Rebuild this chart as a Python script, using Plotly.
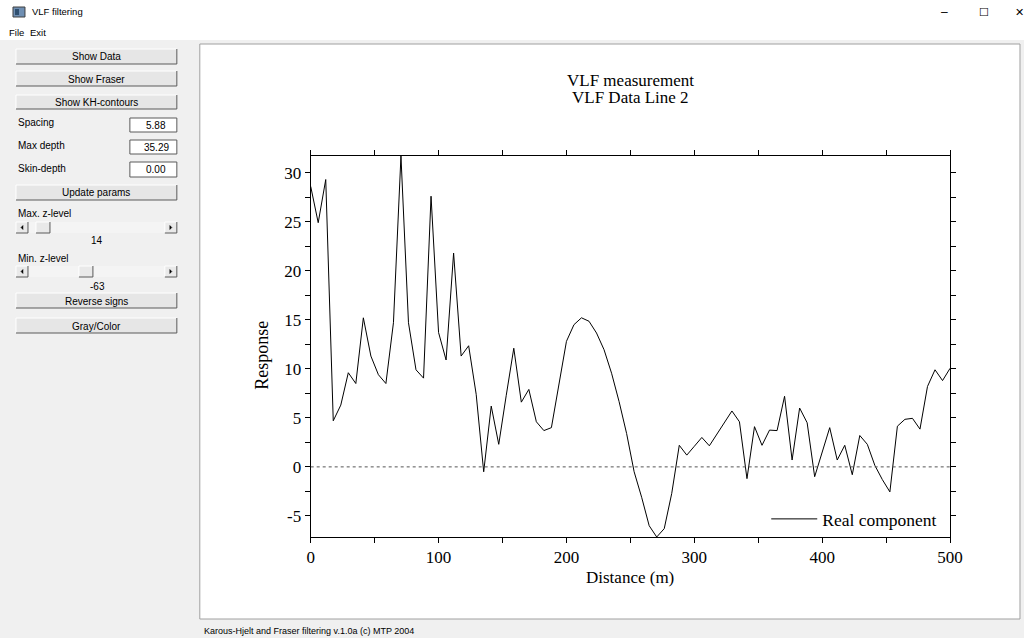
import plotly.graph_objects as go

# ---------------- data ----------------
distance_m = [0.00, 5.88, 11.76, 17.65, 23.53, 29.41, 35.29, 41.18, 47.06, 52.94,
              58.82, 64.71, 70.59, 76.47, 82.35, 88.24, 94.12, 100.00, 105.88, 111.76,
              117.65, 123.53, 129.41, 135.29, 141.18, 147.06, 152.94, 158.82, 164.71, 170.59,
              176.47, 182.35, 188.24, 194.12, 200.00, 205.88, 211.76, 217.65, 223.53, 229.41,
              235.29, 241.18, 247.06, 252.94, 258.82, 264.71, 270.59, 276.47, 282.35, 288.24,
              294.12, 300.00, 305.88, 311.76, 317.65, 323.53, 329.41, 335.29, 341.18, 347.06,
              352.94, 358.82, 364.71, 370.59, 376.47, 382.35, 388.24, 394.12, 400.00, 405.88,
              411.76, 417.65, 423.53, 429.41, 435.29, 441.18, 447.06, 452.94, 458.82, 464.71,
              470.59, 476.47, 482.35, 488.24, 494.12, 500.00]

real_component = [28.6, 24.9, 29.3, 4.7, 6.3, 9.6, 8.5, 15.2, 11.3, 9.4,
                  8.5, 14.7, 31.7, 14.7, 9.9, 9.05, 27.6, 13.7, 10.9, 21.8,
                  11.3, 12.35, 7.4, -0.5, 6.2, 2.3, 7.3, 12.1, 6.6, 7.9,
                  4.6, 3.7, 4.0, 8.5, 12.8, 14.5, 15.2, 14.85, 13.65, 11.95,
                  9.55, 6.65, 3.4, -0.5, -3.1, -6.0, -7.15, -6.3, -2.7, 2.2,
                  1.2, 2.1, 3.0, 2.15, 3.35, 4.6, 5.7, 4.6, -1.2, 4.1,
                  2.2, 3.75, 3.7, 7.2, 0.7, 6.0, 4.5, -1.0, 1.5, 4.0,
                  0.7, 2.2, -0.8, 3.2, 2.3, 0.15, -1.3, -2.55, 4.15, 4.85,
                  4.95, 3.85, 8.2, 9.9, 8.8, 10.05]

x_major_ticks = [0, 100, 200, 300, 400, 500]
x_major_labels = ["0", "100", "200", "300", "400", "500"]
x_minor_ticks = [50, 150, 250, 350, 450]
y_major_ticks = [-5, 0, 5, 10, 15, 20, 25, 30]
y_major_labels = ["-5", "0", "5", "10", "15", "20", "25", "30"]
y_minor_ticks = [-7.5, -2.5, 2.5, 7.5, 12.5, 17.5, 22.5, 27.5]

# ---------------- layout helpers ----------------
W, H = 1024, 638
# horizontal placement as observed in the rendered page
X_OFF, X_SPAN = 4.0, 1008.0
SERIF = "Liberation Serif, Times New Roman, serif"
UI = "Liberation Sans, Arial, sans-serif"

shapes = []
annotations = []


def fx(px):
    return (px - X_OFF) / X_SPAN


def fy(py):
    return 1 - py / H


def rect(x0, y0, x1, y1, fill, line="rgba(0,0,0,0)", lw=1):
    shapes.append(dict(type="rect", xref="paper", yref="paper", layer="below",
                       x0=fx(x0), x1=fx(x1), y0=fy(y1), y1=fy(y0),
                       fillcolor=fill, line=dict(color=line, width=lw)))


def seg(x0, y0, x1, y1, color, lw=1):
    shapes.append(dict(type="line", xref="paper", yref="paper", layer="below",
                       x0=fx(x0), x1=fx(x1), y0=fy(y0), y1=fy(y1),
                       line=dict(color=color, width=lw)))


def text(px, py, s, size=10, font=UI, anchor="left", color="#000"):
    annotations.append(dict(xref="paper", yref="paper", x=fx(px), y=fy(py), text=s,
                            showarrow=False, xanchor=anchor, yanchor="middle",
                            font=dict(family=font, size=size, color=color)))


def button(y0, y1, label, x0=16, x1=177):
    rect(x0, y0, x1, y1, "#e6e6e6")
    seg(x0, y0, x1, y0, "#ffffff")
    seg(x0, y0, x0, y1, "#ffffff")
    seg(x0, y1, x1, y1, "#5a5a5a")
    seg(x1, y0, x1, y1, "#5a5a5a")
    text((x0 + x1) / 2, (y0 + y1) / 2 + 0.5, label, anchor="center")


def editbox(y0, y1, value, x0=130, x1=177):
    rect(x0, y0, x1, y1, "#ffffff", "#5a5a5a")
    text((x0 + x1) / 2 + 3, (y0 + y1) / 2 + 0.5, value, anchor="center")


def scrollbar(y0, y1, thumb_x0, thumb_x1, x0=16, x1=177):
    rect(x0, y0, x1, y1, "#f4f4f4")
    for (a, b) in [(x0, x0 + 12), (thumb_x0, thumb_x1), (x1 - 12, x1)]:
        rect(a, y0, b, y1, "#e9e9e9")
        seg(a, y0, b, y0, "#ffffff")
        seg(a, y0, a, y1, "#ffffff")
        seg(a, y1, b, y1, "#5a5a5a")
        seg(b, y0, b, y1, "#5a5a5a")
    cy = (y0 + y1) / 2
    shapes.append(dict(type="path", xref="paper", yref="paper", layer="below",
                       path=f"M {fx(x0+5)},{fy(cy)} L {fx(x0+7)},{fy(cy-2)} L {fx(x0+7)},{fy(cy+2)} Z",
                       fillcolor="#000", line=dict(color="#000", width=0.5)))
    shapes.append(dict(type="path", xref="paper", yref="paper", layer="below",
                       path=f"M {fx(x1-5)},{fy(cy)} L {fx(x1-7)},{fy(cy-2)} L {fx(x1-7)},{fy(cy+2)} Z",
                       fillcolor="#000", line=dict(color="#000", width=0.5)))


# window background
rect(-10, 40, 1040, H + 5, "#f0f0f0")
# title bar
rect(13, 7, 25, 17, "#6f8fb3", "#404040")
rect(15, 9, 19, 15, "#2f4f6f")
text(30, 12, "VLF filtering", size=9.5)
text(945, 12, "–", size=12, anchor="center")
text(985, 12, "☐", size=11, anchor="center")
text(1021, 12, "✕", size=11, anchor="center")
text(7, 33, "File", size=9.5)
text(28, 33, "Exit", size=9.5)

# left control panel
button(49, 64, "Show Data")
button(71, 86, "Show Fraser")
button(95, 109, "Show KH-contours")
text(16, 123, "Spacing")
editbox(118, 132, "5.88")
text(16, 145, "Max depth")
editbox(140, 154, "35.29")
text(16, 168, "Skin-depth")
editbox(162, 177, "0.00")
button(185, 200, "Update params")
text(16, 214, "Max. z-level")
scrollbar(222, 233, 36, 50)
text(97, 241, "14", anchor="center")
text(16, 258, "Min. z-level")
scrollbar(266, 277, 79, 93)
text(98, 286, "-63", anchor="center")
button(293, 308, "Reverse signs")
button(318, 333, "Gray/Color")

# chart panel
rect(200, 44, 1021, 619, "#ffffff", "#a0a0a0")
text(202, 631, "Karous-Hjelt and Fraser filtering v.1.0a (c) MTP 2004", size=9)

# chart titles
text(631, 81, "VLF measurement", size=17, font=SERIF, anchor="center")
text(631, 97.5, "VLF Data Line 2", size=17, font=SERIF, anchor="center")
text(631, 577, "Distance (m)", size=17, font=SERIF, anchor="center")
annotations.append(dict(xref="paper", yref="paper", x=fx(262), y=fy(355), text="Response",
                        textangle=-90, showarrow=False, xanchor="center", yanchor="middle",
                        font=dict(family=SERIF, size=18, color="#000")))

# zero reference line
shapes.append(dict(type="line", xref="x", yref="y", x0=0, x1=500, y0=0, y1=0,
                   line=dict(color="#555555", width=1, dash="dot")))

fig = go.Figure()
fig.add_trace(go.Scatter(x=distance_m, y=real_component, mode="lines",
                         name="Real component",
                         line=dict(color="#000000", width=1)))

axis_common = dict(showline=True, linecolor="#000", linewidth=1, mirror="ticks",
                   ticks="outside", ticklen=5, tickcolor="#000", tickwidth=1,
                   showgrid=False, zeroline=False,
                   tickfont=dict(family=SERIF, size=17, color="#000"))

fig.update_layout(
    width=W, height=H, autosize=False,
    margin=dict(l=0, r=0, t=0, b=0, pad=0),
    paper_bgcolor="#ffffff", plot_bgcolor="#ffffff",
    shapes=shapes, annotations=annotations,
    showlegend=True,
    legend=dict(x=fx(767), y=fy(519), xanchor="left", yanchor="middle",
                bgcolor="rgba(0,0,0,0)", borderwidth=0, itemwidth=46,
                font=dict(family=SERIF, size=17.5, color="#000")),
    xaxis=dict(domain=[fx(311), fx(951)], range=[0, 500],
               tickmode="array", tickvals=x_major_ticks, ticktext=x_major_labels,
               minor=dict(tickmode="array", tickvals=x_minor_ticks, ticks="outside",
                          ticklen=5, tickcolor="#000"),
               **axis_common),
    yaxis=dict(domain=[fy(537), fy(156)],
               range=[min(real_component), max(real_component)],
               tickmode="array", tickvals=y_major_ticks, ticktext=y_major_labels,
               minor=dict(tickmode="array", tickvals=y_minor_ticks, ticks="outside",
                          ticklen=5, tickcolor="#000"),
               **axis_common),
)

fig.write_html("out.html", config={"responsive": False})
